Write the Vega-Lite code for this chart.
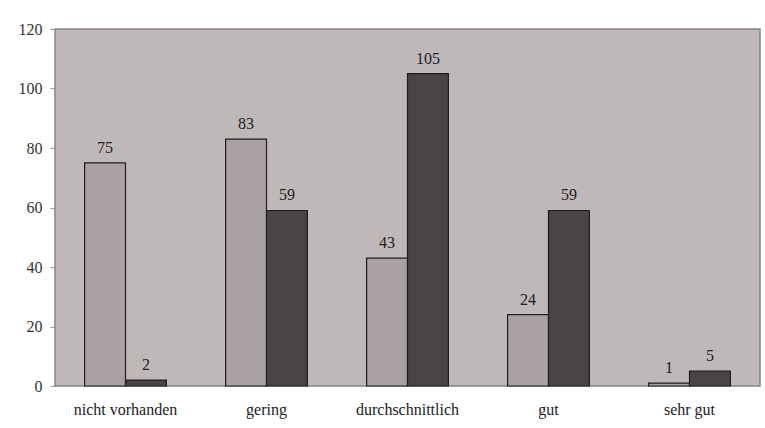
{
  "$schema": "https://vega.github.io/schema/vega-lite/v6.json",
  "width": 705,
  "height": 357,
  "autosize": {"type": "none"},
  "padding": {"left": 55, "top": 29, "right": 5, "bottom": 42},
  "background": "white",
  "data": {"values": [
    {"cat": "nicht vorhanden", "series": "A", "value": 75},
    {"cat": "nicht vorhanden", "series": "B", "value": 2},
    {"cat": "gering", "series": "A", "value": 83},
    {"cat": "gering", "series": "B", "value": 59},
    {"cat": "durchschnittlich", "series": "A", "value": 43},
    {"cat": "durchschnittlich", "series": "B", "value": 105},
    {"cat": "gut", "series": "A", "value": 24},
    {"cat": "gut", "series": "B", "value": 59},
    {"cat": "sehr gut", "series": "A", "value": 1},
    {"cat": "sehr gut", "series": "B", "value": 5}
  ]},
  "encoding": {
    "x": {"field": "cat", "type": "nominal", "sort": null,
      "scale": {"paddingInner": 0.42, "paddingOuter": 0.21},
      "axis": {"title": null, "labelAngle": 0, "ticks": false, "domain": false, "labelPadding": 15,
        "labelFont": "Times New Roman", "labelFontSize": 16, "labelColor": "#222"}},
    "xOffset": {"field": "series", "type": "nominal", "scale": {"paddingInner": 0, "paddingOuter": 0}},
    "y": {"field": "value", "type": "quantitative",
      "scale": {"domain": [0, 120], "nice": false},
      "axis": {"title": null, "values": [0, 20, 40, 60, 80, 100, 120], "grid": false, "domain": false,
        "tickSize": 5, "tickColor": "#999", "labelPadding": 8,
        "labelFont": "Times New Roman", "labelFontSize": 16, "labelColor": "#333"}}
  },
  "layer": [
    {"mark": {"type": "bar", "stroke": "#1e1e1e", "strokeWidth": 1.2},
      "encoding": {"color": {"field": "series", "type": "nominal",
        "scale": {"domain": ["A", "B"], "range": ["#aaa2a2", "#4a4444"]}, "legend": null}}},
    {"mark": {"type": "text", "baseline": "bottom", "dy": -7, "font": "Times New Roman", "fontSize": 16, "color": "#222"},
      "encoding": {"text": {"field": "value", "type": "quantitative"}}}
  ],
  "config": {
    "view": {"fill": "#bfb8b8", "stroke": "#8a8484", "strokeWidth": 1.5}
  }
}
